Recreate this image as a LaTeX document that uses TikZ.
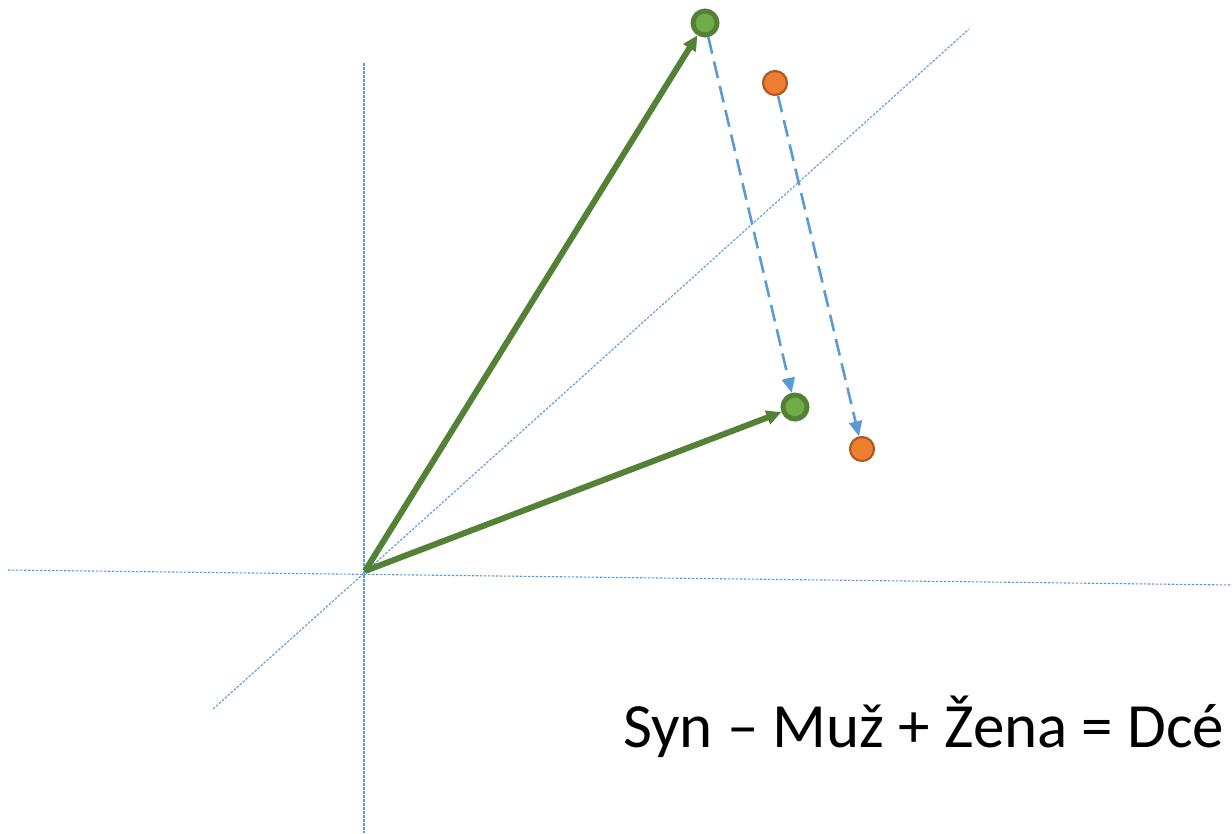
\documentclass[tikz,border=0pt]{standalone}
\usepackage{fontspec}
\setmainfont{Carlito}
\usetikzlibrary{arrows.meta, positioning}

\definecolor{vecgreen}{HTML}{538135}
\definecolor{vecfill}{HTML}{70AD47}
\definecolor{ptorange}{HTML}{ED7D31}
\definecolor{ptedge}{HTML}{AE5A21}
\definecolor{axisblue}{HTML}{5B9BD5}

\begin{document}
\begin{tikzpicture}[
  x=1pt, y=-1pt,
  axis/.style={axisblue, line width=1.1pt, dash pattern=on 2.5pt off 1.5pt},
  wordvec/.style={circle, draw=vecgreen, fill=vecfill, line width=5pt,
    minimum size=24pt, inner sep=0pt},
  wordpt/.style={circle, draw=ptedge, fill=ptorange, line width=2.2pt,
    minimum size=24pt, inner sep=0pt},
  vecarrow/.style={-{Triangle[length=15pt, width=14pt]}, vecgreen, line width=6pt},
  offsetarrow/.style={-{Triangle[length=15pt, width=13pt]}, axisblue, line width=2.6pt,
    dash pattern=on 17pt off 8pt}
]
  \useasboundingbox (0,0) rectangle (1232,833);

  % axes
  \coordinate (o) at (365,571);
  \coordinate (xl) at (8,570);
  \coordinate (xr) at (1232,585);
  \coordinate (yt) at (364,63);
  \coordinate (yb) at (364,833);
  \coordinate (dl) at (213,709);
  \coordinate (dr) at (969,29);
  \draw[axis] (xl) -- (xr);
  \draw[axis] (yt) -- (yb);
  \draw[axis] (dl) -- (dr);

  % points
  \node[wordvec] (syn) at (705,23) {};
  \node[wordvec] (dcera) at (795,407) {};
  \node[wordpt] (muz) at (775,83) {};
  \node[wordpt] (zena) at (862,449) {};

  \draw[vecarrow] (o) -- (syn);
  \draw[vecarrow] (o) -- (dcera);
  \draw[offsetarrow] (syn) -- (dcera);
  \draw[offsetarrow] (muz) -- (zena);

  \node[anchor=base west, inner sep=0pt, font=\fontsize{63}{76}\selectfont]
    (eq) at (623,747) {Syn – Muž + Žena = Dcé};
\end{tikzpicture}
\end{document}
